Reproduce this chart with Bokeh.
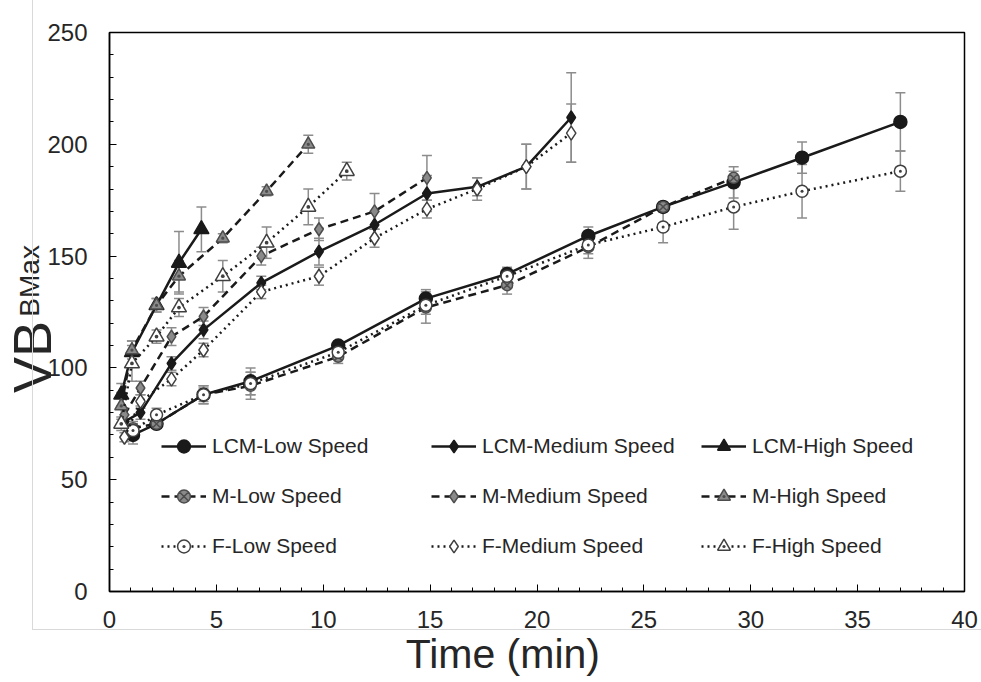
import numpy as np
from bokeh.plotting import figure
from bokeh.models import (ColumnDataSource, Whisker, TeeHead, Legend, LegendItem,
                          FixedTicker, LinearAxis, InlineStyleSheet)
from bokeh.embed import file_html
from bokeh.resources import INLINE

# ---------------- data ----------------
lcm_low_t = [1.1, 2.2, 4.4, 6.6, 10.7, 14.8, 18.6, 22.4, 25.9, 29.2, 32.4, 37.0]
lcm_low_v = [70, 75, 88, 94, 110, 131, 142, 159, 172, 183, 194, 210]
lcm_low_e = [4, 2, 3, 6, 2, 4, 3, 4, 2, 7, 7, 13]

m_low_t = [1.1, 2.2, 4.4, 6.6, 10.7, 14.8, 18.6, 22.4, 25.9, 29.2]
m_low_v = [73, 75, 88, 92, 105, 127, 137, 154, 172, 185]
m_low_e = [3, 2, 4, 6, 3, 7, 4, 5, 2, 3]

f_low_t = [1.1, 2.2, 4.4, 6.6, 10.7, 14.8, 18.6, 22.4, 25.9, 29.2, 32.4, 37.0]
f_low_v = [72, 79, 88, 93, 107, 128, 141, 155, 163, 172, 179, 188]
f_low_e = [3, 3, 4, 5, 3, 4, 3, 4, 7, 10, 12, 9]

lcm_med_t = [0.7, 1.45, 2.9, 4.4, 7.1, 9.8, 12.4, 14.85, 17.2, 19.5, 21.6]
lcm_med_v = [76, 80, 102, 117, 138, 152, 164, 178, 181, 190, 212]
lcm_med_e = [3, 3, 3, 4, 3, 6, 6, 8, 4, 10, 20]

m_med_t = [0.7, 1.45, 2.9, 4.4, 7.1, 9.8, 12.4, 14.85]
m_med_v = [79, 91, 114, 123, 150, 162, 170, 185]
m_med_e = [3, 3, 4, 4, 4, 5, 8, 10]

f_med_t = [0.7, 1.45, 2.9, 4.4, 7.1, 9.8, 12.4, 14.85, 17.2, 19.5, 21.6]
f_med_v = [69, 85, 95, 108, 134, 141, 158, 171, 180, 190, 205]
f_med_e = [2, 3, 3, 3, 3, 4, 4, 4, 5, 10, 13]

lcm_high_t = [0.55, 1.05, 2.2, 3.25, 4.3]
lcm_high_v = [88, 107, 128, 147, 162]
lcm_high_e = [5, 5, 3, 14, 10]

m_high_t = [0.55, 1.05, 2.2, 3.25, 5.3, 7.35, 9.3]
m_high_v = [83, 108, 128, 141, 158, 179, 200]
m_high_e = [6, 4, 3, 7, 2, 2, 4]

f_high_t = [0.55, 1.05, 2.2, 3.25, 5.3, 7.35, 9.3, 11.1]
f_high_v = [75, 102, 114, 127, 141, 156, 172, 188]
f_high_e = [3, 8, 3, 4, 7, 7, 8, 4]

x_ticks = [0, 5, 10, 15, 20, 25, 30, 35, 40]
y_ticks = [0, 50, 100, 150, 200, 250]

NB = "\u00a0"
FONT = "Liberation Sans"
TXT = "#262626"
GREY = "#8c8c8c"

css = InlineStyleSheet(css="""
:host { margin-left: -2px !important; }
:host::after {
  content: ""; position: absolute; left: 34px; top: -20px;
  width: 1200px; height: 650px; border: 1px solid #d9d9d9;
  pointer-events: none; box-sizing: border-box;
}
""")

p = figure(frame_width=855, frame_height=559, x_range=(0, 40), y_range=(0, 250),
           output_backend="svg", toolbar_location=None,
           min_border_left=108, min_border_right=16, min_border_top=32,
           min_border_bottom=83)
p.stylesheets = [css]
p.grid.visible = False
p.outline_line_color = "#000000"
p.outline_line_width = 1.5
p.background_fill_color = "white"
p.border_fill_color = "white"

for ax, ticks, minor in ((p.xaxis, x_ticks, list(range(0, 41))),
                         (p.yaxis, y_ticks, list(range(0, 251, 10)))):
    ax.ticker = FixedTicker(ticks=ticks, minor_ticks=minor)
    ax.major_tick_in = 7
    ax.major_tick_out = 0
    ax.minor_tick_in = 4
    ax.minor_tick_out = 0
    ax.axis_line_color = "#000000"
    ax.axis_line_width = 1.5
    ax.major_tick_line_color = "#000000"
    ax.minor_tick_line_color = "#000000"
    ax.major_label_text_font = FONT
    ax.major_label_text_font_size = "24px"
    ax.major_label_text_color = TXT
    ax.axis_label_text_font = FONT
    ax.axis_label_text_font_style = "normal"
    ax.axis_label_text_color = TXT
p.xaxis.major_label_standoff = 19
p.yaxis.major_label_standoff = 22

# x title
p.xaxis.axis_label = "Time (min)" + NB * 6
p.xaxis.axis_label_text_font_size = "41px"
p.xaxis.axis_label_standoff = 0

# y title: subscript part on the main axis, "VB" on an outer bare axis
p.yaxis.axis_label = NB * 8 + "BMax"
p.yaxis.axis_label_text_font_size = "28px"
p.yaxis.axis_label_standoff = -1

vb_axis = LinearAxis(ticker=FixedTicker(ticks=[]), axis_line_color=None,
                     major_tick_line_color=None, minor_tick_line_color=None,
                     axis_label="VB" + NB * 6, axis_label_text_font=FONT,
                     axis_label_text_font_size="54px",
                     axis_label_text_font_style="normal",
                     axis_label_text_color=TXT, axis_label_standoff=-50)
p.add_layout(vb_axis, "left")

series = [
    ("LCM-Low Speed", lcm_low_t, lcm_low_v, lcm_low_e, "solid", "circle", "#1a1a1a", "#1a1a1a", 13),
    ("LCM-Medium Speed", lcm_med_t, lcm_med_v, lcm_med_e, "solid", "diamond", "#1a1a1a", "#1a1a1a", 13),
    ("LCM-High Speed", lcm_high_t, lcm_high_v, lcm_high_e, "solid", "triangle", "#1a1a1a", "#1a1a1a", 15),
    ("M-Low Speed", m_low_t, m_low_v, m_low_e, "8 5", "circle_x", "#8a8a8a", "#4d4d4d", 11),
    ("M-Medium Speed", m_med_t, m_med_v, m_med_e, "8 5", "diamond", "#8a8a8a", "#4d4d4d", 13),
    ("M-High Speed", m_high_t, m_high_v, m_high_e, "8 5", "triangle_dot", "#8a8a8a", "#4d4d4d", 13),
    ("F-Low Speed", f_low_t, f_low_v, f_low_e, "2 4", "circle_dot", "#ffffff", "#404040", 12),
    ("F-Medium Speed", f_med_t, f_med_v, f_med_e, "2 4", "diamond", "#ffffff", "#404040", 14),
    ("F-High Speed", f_high_t, f_high_v, f_high_e, "2 4", "triangle_dot", "#ffffff", "#404040", 15),
]

items = []
for name, t, v, e, dash, marker, fill, edge, size in series:
    src = ColumnDataSource(dict(t=t, v=v,
                                up=[a + b for a, b in zip(v, e)],
                                lo=[a - b for a, b in zip(v, e)]))
    w = Whisker(source=src, base="t", upper="up", lower="lo", dimension="height",
                line_color=GREY, line_width=1.5,
                upper_head=TeeHead(size=10, line_color=GREY, line_width=1.5),
                lower_head=TeeHead(size=10, line_color=GREY, line_width=1.5))
    p.add_layout(w)
    r1 = p.line("t", "v", source=src, line_color="#1a1a1a", line_width=2.5,
                line_dash=dash)
    r2 = p.scatter("t", "v", source=src, marker=marker, size=size,
                   fill_color=fill, line_color=edge, line_width=1.5)
    items.append(LegendItem(label=name, renderers=[r1, r2]))

legend = Legend(items=items, location=(52, 29), orientation="horizontal", ncols=3,
                glyph_width=45, glyph_height=32, label_height=32, label_width=201,
                label_standoff=6, spacing=18, padding=0, margin=0,
                background_fill_alpha=0, border_line_alpha=0,
                label_text_font=FONT, label_text_font_size="21px",
                label_text_color=TXT)
p.add_layout(legend)

open("out.html", "w").write(file_html(p, INLINE))
